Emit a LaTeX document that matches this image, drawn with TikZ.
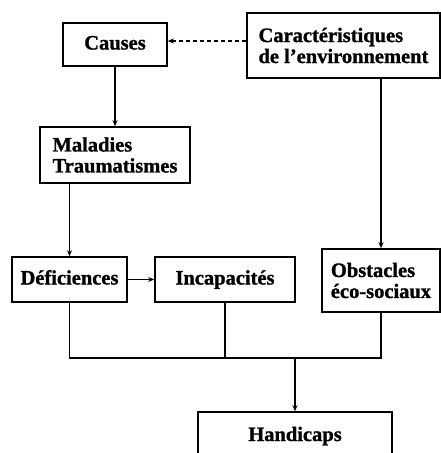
\documentclass[tikz,border=0pt]{standalone}
\usepackage{fontspec}
\setmainfont{Liberation Serif}[BoldFeatures={FakeBold=1.2}]
\usetikzlibrary{arrows.meta}
\tikzset{box/.style={draw, line width=1.6pt, align=left, inner sep=2pt,
    font=\bfseries\fontsize{20.5}{21}\selectfont},
  oneline/.style={text height=14pt, text depth=4pt},
  >={Stealth[length=6pt, width=5pt]}}

\begin{document}
\begin{tikzpicture}[x=1pt, y=-1pt, line width=1.5pt]
  \useasboundingbox (0,0) rectangle (441,453);

  \node[box, oneline, minimum width=104pt, minimum height=43pt] (causes) at (115,44.5) {Causes};
  \node[box, minimum width=193pt, minimum height=65pt] (carac) at (343.5,45.5) {Caractéristiques\\de l’environnement};
  \node[box, minimum width=150pt, minimum height=56pt] (maladies) at (115,155) {Maladies\\Traumatismes};
  \node[box, oneline, minimum width=115pt, minimum height=45pt] (defic) at (69.5,279.5) {Déficiences};
  \node[box, oneline, minimum width=140pt, minimum height=45pt] (incap) at (225,279.5) {Incapacités};
  \node[box, minimum width=118pt, minimum height=63pt] (obst) at (381,280.5) {Obstacles\\éco-sociaux};
  \node[box, oneline, minimum width=194pt, minimum height=48pt] (handi) at (295,436) {Handicaps};

  \coordinate (bus) at (handi.north |- 0,358);

  %\draw[->] (carac) to (causes);
  \draw[->, dash pattern=on 4pt off 3pt] (carac.west |- 0,41) -- (causes.east |- 0,41);
  \draw[->] (causes) -- (maladies);
  \draw[->] (maladies.south -| defic.north) -- (defic.north);
  \draw[->] (carac.south -| obst.north) -- (obst.north);
  \draw[->] (defic) -- (incap);

  \draw (defic.south) |- (bus) -| (obst.south);
  \draw (incap.south) -- (incap.south |- bus);
  \draw[->] (bus) -- (handi.north);
\end{tikzpicture}
\end{document}
